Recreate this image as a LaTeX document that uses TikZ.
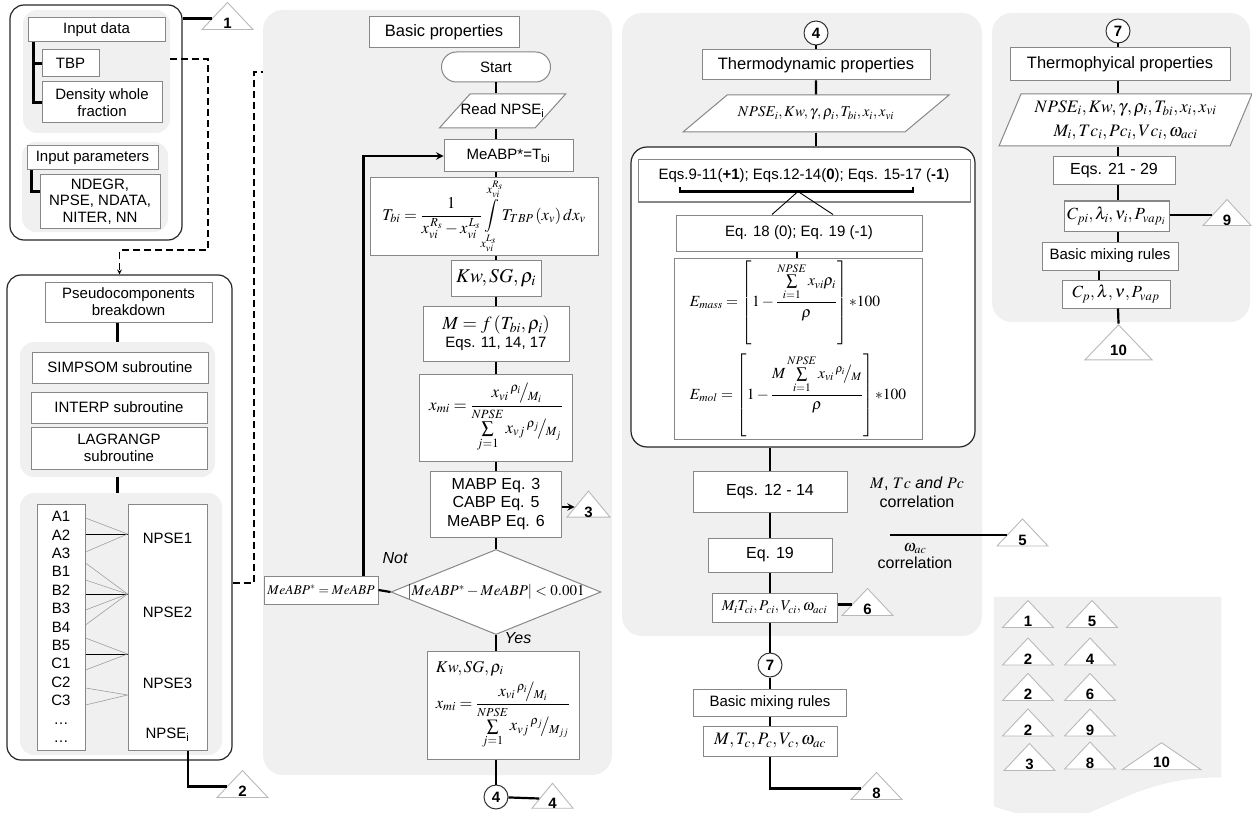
\documentclass[tikz,border=0pt]{standalone}
\usepackage{mathptmx}
\usepackage{amsmath}
\usepackage[no-math]{fontspec}
\setmainfont{Liberation Sans}
\usetikzlibrary{shapes.geometric}
\definecolor{panelgray}{RGB}{240,240,240}
\definecolor{boxline}{RGB}{135,135,135}
\definecolor{triline}{RGB}{185,185,185}
\newcommand{\slfrac}[2]{{}^{#1}\!\big/{}_{\!#2}}
\begin{document}
\begin{tikzpicture}[x=1pt, y=-1pt, >=stealth,
  font=\fontsize{15}{17}\selectfont,
  dims/.style 2 args={minimum width=#1, minimum height=#2},
  panel/.style={fill=panelgray, rounded corners=14pt, inner sep=0pt},
  frame/.style={draw=black!85, line width=1.2pt, rounded corners=14pt, inner sep=0pt},
  box/.style={draw=boxline, line width=1pt, fill=white, align=center, inner sep=2pt},
  title/.style={box, font=\fontsize{16.5}{19}\selectfont},
  terminal/.style={box, rounded corners=15pt},
  io/.style 2 args={box, trapezium, trapezium stretches body, trapezium left angle=#1, trapezium right angle=#2},
  decision/.style={diamond, draw=boxline, line width=1pt, fill=white, aspect=2.5, inner sep=0pt},
  joint/.style={circle, draw=black!80, line width=1pt, fill=white, inner sep=0pt, minimum size=24, font=\bfseries\fontsize{15}{17}\selectfont},
  offpage/.style={isosceles triangle, isosceles triangle stretches, shape border rotate=90, draw=triline, line width=0.9pt, fill=white, inner sep=0pt, dims={51}{27},
    label={[font=\bfseries\fontsize{15}{17}\selectfont, yshift=-5pt]center:#1}},
  note/.style={align=center, inner sep=1pt},
  link/.style={line width=2.2pt},
  dashedlink/.style={line width=1.2pt, dash pattern=on 7pt off 4pt},
  fanline/.style={line width=0.6pt, draw=gray!75},
  fanmain/.style={line width=1pt}]
\useasboundingbox (0,0) rectangle (1252,813);
\node[frame, dims={172}{235}] (n1) at (96,122.5) {};
\node[panel, dims={147}{123}] (n2) at (96.5,71.5) {};
\node[box, dims={137}{24}] (n3) at (96.5,30) {Input data};
\node[box, dims={57}{27}] (n4) at (70.5,63.5) {TBP};
\node[box, dims={120}{41}] (n5) at (102,102.5) {Density whole\\fraction};
\node[panel, dims={146}{90}] (n6) at (95,187) {};
\node[box, dims={131}{24}] (n7) at (92.5,158) {Input parameters};
\node[box, dims={120}{53}, font=\fontsize{15}{16.5}\selectfont] (n8) at (100,201.5) {NDEGR,\\NPSE, NDATA,\\NITER, NN};
\node[offpage=1] (n9) at (227.5,18.5) {};
\node[frame, dims={225}{485}] (n10) at (119.5,517.5) {};
\node[box, dims={167}{40}] (n11) at (128.5,302) {Pseudocomponents\\breakdown};
\node[panel, dims={195}{135}] (n12) at (117.5,409.5) {};
\node[box, dims={176}{31}] (n13) at (120,367.5) {SIMPSOM subroutine};
\node[box, dims={176}{31}] (n14) at (119,407.5) {INTERP subroutine};
\node[box, dims={176}{42}] (n15) at (119,448) {LAGRANGP\\subroutine};
\node[panel, dims={202}{262}] (n16) at (121,624) {};
\node[box, dims={48}{246}, font=\fontsize{15}{18.4}\selectfont] (n17) at (61,627) {A1\\A2\\A3\\B1\\B2\\B3\\B4\\B5\\C1\\C2\\C3\\…\\…};
\node[box, dims={79}{246}] (n18) at (167.5,627) {};
\node[note] (n19) at (167.5,538) {NPSE1};
\node[note] (n20) at (167.5,612) {NPSE2};
\node[note] (n21) at (167.5,683) {NPSE3};
\node[note] (n22) at (167.5,735) {NPSE\textsubscript{i}};
\node[offpage=2] (n23) at (242.5,786.5) {};
\node[panel, rounded corners=20pt, dims={349}{765}] (n24) at (437.5,392.5) {};
\node[title, dims={150}{31}] (n25) at (444,32.5) {Basic properties};
\node[terminal, dims={109}{30}] (n26) at (496,67) {Start};
\node[io={48}{132}, dims={125}{34}, inner xsep=0pt, inner ysep=10pt, text height=11pt, text depth=3pt] (n27) at (502.5,111) {\makebox[65pt]{Read NPSE\textsubscript{i}}};
\node[box, dims={129}{32}] (n28) at (508.5,156) {MeABP*=T\textsubscript{bi}};
\node[box, dims={228}{67}, font=\fontsize{16.5}{19}\selectfont] (n29) at (484,216.5) {$T_{bi}=\dfrac{1}{x_{vi}^{\,R_s}-x_{vi}^{\,L_s}}\displaystyle\int\limits_{x_{vi}^{L_s}}^{x_{vi}^{R_s}} T_{TBP}\left(x_v\right)dx_v$};
\node[box, dims={90}{36}, font=\fontsize{19.5}{21}\selectfont] (n30) at (496,278) {$Kw,SG,\rho_i$};
\node[box, dims={146}{55}] (n31) at (496,333.5) {{\fontsize{18.5}{19}\selectfont$M=f\left(T_{bi},\rho_i\right)$}\\[1pt]Eqs. 11, 14, 17};
\node[box, dims={153}{87}, font=\fontsize{17}{19}\selectfont] (n32) at (496,417.5) {$x_{mi}=\dfrac{x_{vi}\,\slfrac{\rho_i}{M_i}}{\sum\limits_{j=1}^{NPSE} x_{vj}\,\slfrac{\rho_j}{M_j}}$};
\node[box, dims={131}{66}, font=\fontsize{16}{18.5}\selectfont] (n33) at (496,504) {MABP Eq. 3\\CABP Eq. 5\\MeABP Eq. 6};
\node[offpage=3, dims={43}{26}] (n34) at (588.5,507) {};
\node[decision, dims={210}{85}] (n35) at (496,592) {\makebox[120pt]{$\left|MeABP^{*}-MeABP\right|<0.001$}};
\node[box, dims={114}{28}, font=\fontsize{13.5}{15}\selectfont] (n36) at (321,590) {$MeABP^{*}=MeABP$};
\node[note, font=\itshape\fontsize{16}{18}\selectfont] (n37) at (395,558) {Not};
\node[note, font=\itshape\fontsize{16}{18}\selectfont] (n38) at (518,638) {Yes};
\node[box, dims={152}{108}, align=left, font=\fontsize{16.5}{19}\selectfont] (n39) at (503,705) {$Kw,SG,\rho_i$\\[5pt]$x_{mi}=\dfrac{x_{vi}\,\slfrac{\rho_i}{M_i}}{\sum\limits_{j=1}^{NPSE} x_{vj}\,\slfrac{\rho_j}{M_{jj}}}$};
\node[joint] (n40) at (496,797) {4};
\node[offpage=4, dims={41}{25}] (n41) at (552.5,798.5) {};
\node[panel, rounded corners=20pt, dims={360}{623}] (n42) at (802,324.5) {};
\node[joint] (n43) at (816,33) {4};
\node[title, dims={228}{30}] (n44) at (816,65) {Thermodynamic properties};
\node[io={40}{140}, dims={266}{37}, inner ysep=11pt, text height=11pt, text depth=4pt, font=\fontsize{15}{17}\selectfont] (n45) at (816,113.5) {$NPSE_i,Kw,\gamma,\rho_i,T_{bi},x_i,x_{vi}$};
\node[frame, fill=white, rounded corners=16pt, dims={344}{300}] (n46) at (803,297) {};
\node[box, dims={332}{42}, text depth=14pt] (n47) at (804,181) {Eqs.9-11(\textbf{+1}); Eqs.12-14(\textbf{0}); Eqs. 15-17 (\textbf{-1})};
\node[box, dims={246}{36}] (n48) at (799,233) {Eq. 18 (0); Eq. 19 (-1)};
\node[box, dims={248}{178}, align=left, font=\fontsize{15.5}{17}\selectfont] (n49) at (798,349) {$E_{mass}=\left[1-\dfrac{\sum\limits_{i=1}^{NPSE} x_{vi}\rho_i}{\rho}\right]{*}100$\\[8pt]$E_{mol}=\left[1-\dfrac{M\sum\limits_{i=1}^{NPSE} x_{vi}\,\slfrac{\rho_i}{M}}{\rho}\right]{*}100$};
\node[box, dims={154}{41}, font=\fontsize{16}{18}\selectfont] (n50) at (770,491.5) {Eqs. 12 - 14};
\node[note, font=\fontsize{16}{19}\selectfont] (n51) at (917,492) {$M$, $Tc$ \textit{and} $Pc$\\correlation};
\node[box, dims={124}{34}, font=\fontsize{16}{18}\selectfont] (n52) at (770,555) {Eq. 19};
\node[note, font=\fontsize{16}{17}\selectfont] (n53) at (915,556) {$\omega_{ac}$\\correlation};
\node[offpage=5] (n54) at (1022.5,535) {};
\node[box, dims={125}{29}] (n55) at (774.5,607.5) {$M_iT_{ci},P_{ci},V_{ci},\omega_{aci}$};
\node[offpage=6] (n56) at (867.5,604.5) {};
\node[joint] (n57) at (770,665) {7};
\node[box, dims={153}{27}] (n58) at (770,702.5) {Basic mixing rules};
\node[box, dims={134}{30}, font=\fontsize{17.5}{19}\selectfont] (n59) at (770,741) {$M,T_c,P_c,V_c,\omega_{ac}$};
\node[offpage=8] (n60) at (876.5,788.5) {};
\node[panel, rounded corners=20pt, dims={258}{309}] (n61) at (1121,167.5) {};
\node[joint] (n62) at (1118,31) {7};
\node[title, dims={220}{33}] (n63) at (1120,64.5) {Thermophyical properties};
\node[io={65}{115}, dims={253}{52}, inner ysep=4pt, font=\fontsize{17.5}{24}\selectfont] (n64) at (1125.5,120) {$NPSE_i,Kw,\gamma,\rho_i,T_{bi},x_i,x_{vi}$\\$M_i,Tc_i,Pc_i,Vc_i,\omega_{aci}$};
\node[box, dims={122}{28}, font=\fontsize{16}{18}\selectfont] (n65) at (1114,171) {Eqs. 21 - 29};
\node[box, dims={105}{30}, font=\fontsize{17}{19}\selectfont] (n66) at (1116.5,216) {$C_{pi},\lambda_i,\nu_i,P_{vap_i}$};
\node[offpage=9, dims={48}{26}] (n67) at (1227,215) {};
\node[box, dims={136}{28}] (n68) at (1110,256) {Basic mixing rules};
\node[box, dims={108}{28}, font=\fontsize{17}{19}\selectfont] (n69) at (1116,294) {$C_p,\lambda,\nu,P_{vap}$};
\node[offpage=10, dims={67}{35}] (n70) at (1118.5,345.5) {};
\fill[panelgray, draw=gray!15] (994,597) -- (1221,597) -- (1221,777) .. controls (1160,777) and (1130,795) .. (1090,812) .. controls (1060,825) and (1020,815) .. (994,806) -- cycle;
\node[offpage=1] (n71) at (1028,616.5) {};
\node[offpage=5] (n72) at (1092,616.5) {};
\node[offpage=2] (n73) at (1028,654) {};
\node[offpage=4] (n74) at (1090,654) {};
\node[offpage=2] (n75) at (1028,689.5) {};
\node[offpage=6] (n76) at (1090,689.5) {};
\node[offpage=2] (n77) at (1028,725) {};
\node[offpage=9] (n78) at (1090,725) {};
\node[offpage=3] (n79) at (1029.5,759.5) {};
\node[offpage=8] (n80) at (1090,758) {};
\node[offpage=10, dims={79}{27}] (n81) at (1161.5,757.5) {};
\draw[link] (n1.east |- n9.west) -- (n9.west);
\draw[link] ([xshift=6pt]n3.south west) |- (n4.west);
\draw[link] ([xshift=6pt]n3.south west) |- (n5.west);
\draw[link] ([xshift=5pt]n7.south west) |- ([yshift=10pt]n8.west);
\draw[dashedlink, ->] ([yshift=12.5pt]n2.east) -| (208,250) -| (n10.north);
\draw[link] (n11.south -| n12.north) -- (n12.north);
\draw[link] (n12.south) -- (n12.south |- n16.north);
\draw[fanline] (n17.east |- 0,518) -- (n18.west |- 0,534);
\draw[fanmain] (n17.east |- 0,534) -- (n18.west |- 0,534);
\draw[fanline] (n17.east |- 0,552) -- (n18.west |- 0,534);
\draw[fanline] (n17.east |- 0,563) -- (n18.west |- 0,594);
\draw[fanline] (n17.east |- 0,580) -- (n18.west |- 0,594);
\draw[fanmain] (n17.east |- 0,594) -- (n18.west |- 0,594);
\draw[fanline] (n17.east |- 0,610) -- (n18.west |- 0,594);
\draw[fanline] (n17.east |- 0,625) -- (n18.west |- 0,594);
\draw[fanline] (n17.east |- 0,638) -- (n18.west |- 0,654);
\draw[fanmain] (n17.east |- 0,654) -- (n18.west |- 0,654);
\draw[fanline] (n17.east |- 0,670) -- (n18.west |- 0,654);
\draw[fanline] (n17.east |- 0,688) -- (n18.west |- 0,695);
\draw[fanline] (n17.east |- 0,705) -- (n18.west |- 0,695);
\draw[link] ([xshift=20.5pt]n18.south) |- (n23.west);
\draw[dashedlink] (n10.east |- 0,583) -| (254,72) -- (n24.west |- 0,72);
\draw[link] (n26) -- (n26 |- n27.north);
\draw[link] (n26 |- n27.south) -- (n26 |- n28.north);
\draw[link] (n26 |- n28.south) -- (n26 |- n29.north);
\draw[link] (n26 |- n29.south) -- (n30);
\draw[link] (n30) -- (n31);
\draw[link] (n31) -- (n32);
\draw[link] (n32) -- (n33);
\draw[link] (n33) -- (n35);
\draw[link, ->] (n33.east |- n34.west) -- (n34.west);
\draw[link] (n35.west) -- (n36.east);
\draw[link, ->] ([xshift=-15pt]n36.north east) |- (n28.west);
\draw[link] (n35) -- (n35 |- n39.north);
\draw[link] (n35 |- n39.south) -- (n40);
\draw[link] (n40) -- (n41.west);
\draw[link] (n43) -- (n44);
\draw[link] (n44) -- (n45);
\draw[link] (n45.south) -- (n45.south |- n46.north);
\draw[link] ([xshift=-124pt, yshift=15pt]n47.south) -- ++(0,4) -- ++(233,0) -- ++(0,-4);
\draw[line width=0.9pt] ([xshift=-6pt, yshift=11pt]n47.south) -- ([xshift=-27pt]n48.north);
\draw[line width=0.9pt] ([xshift=-6pt, yshift=11pt]n47.south) -- ([xshift=34pt]n48.north);
\draw[link] ([xshift=-2pt]n48.south) -- ([xshift=-2pt]n48.south |- n49.north);
\draw[link] (n46.south -| n50) -- (n50);
\draw[link] (n50) -- (n52);
\draw[link] ([xshift=14pt]n53.west |- n54.west) -- (n54.west);
\draw[link] (n52.south) -- (n52.south |- n55.north);
\draw[link] (n55.east |- n56.west) -- (n56.west);
\draw[link] (n52 |- n55.south) -- (n57);
\draw[link] (n57) -- (n58);
\draw[link] (n58) -- (n59);
\draw[link] (n59.south) |- (n60.west);
\draw[link] (n62) -- (n62 |- n63.north);
\draw[link] (n62 |- n63.south) -- (n62 |- n64.north);
\draw[link] (n62 |- n64.south) -- (n62 |- n65.north);
\draw[link] (n62 |- n65.south) -- (n62 |- n66.north);
\draw[link] (n66.east |- n67.west) -- (n67.west);
\draw[link] (n62 |- n66.south) -- (n62 |- n68.north);
\draw[link] ([xshift=-11pt]n68.south) -- ([xshift=-11pt]n68.south |- n69.north);
\draw[link] (n62 |- n69.south) -- (n70.north);
\end{tikzpicture}
\end{document}
